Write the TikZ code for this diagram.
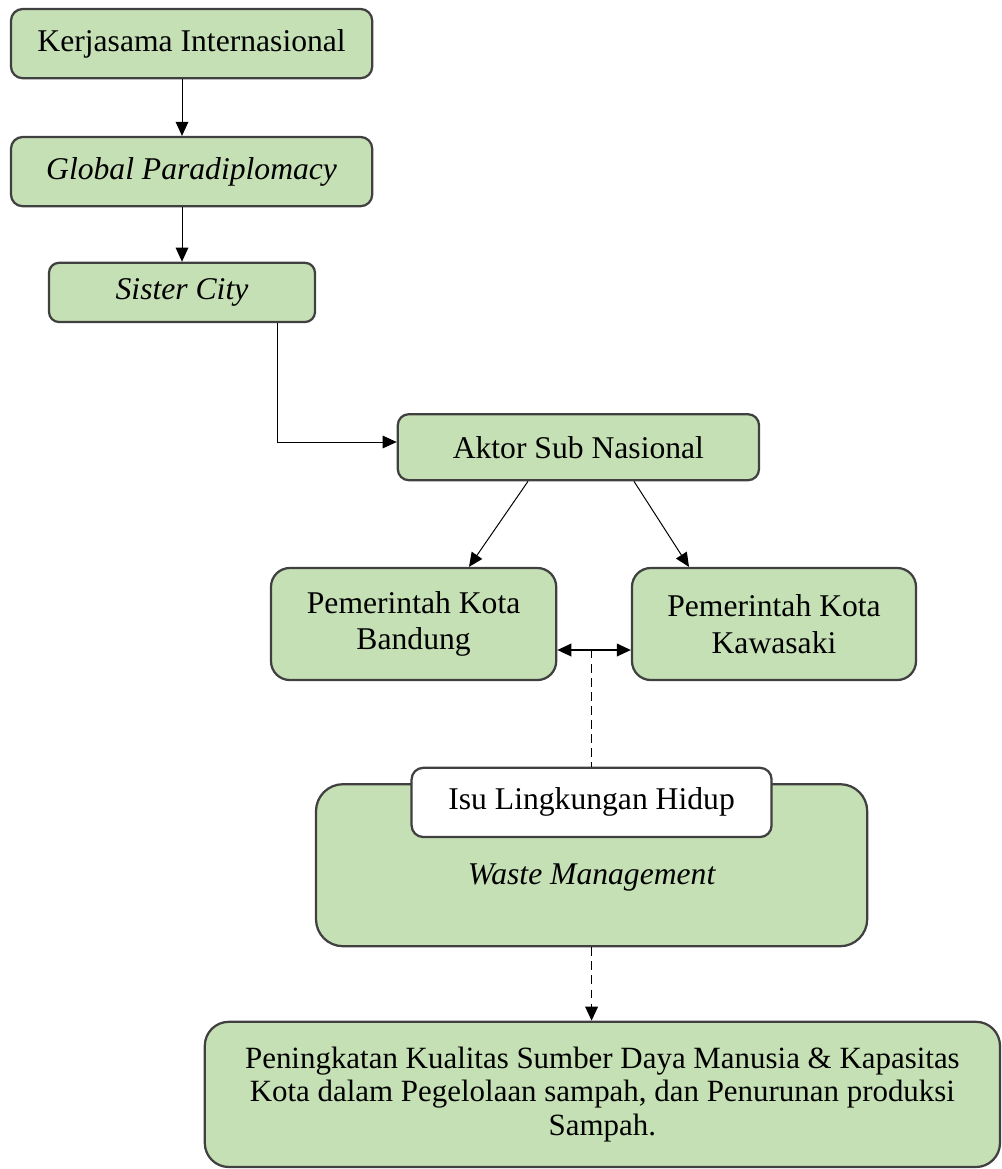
\documentclass[tikz,border=0pt]{standalone}
\usepackage{fontspec}
\setmainfont{Liberation Serif}
\usetikzlibrary{arrows.meta,positioning}
\definecolor{boxgreen}{HTML}{C5E0B4}
\definecolor{boxline}{HTML}{404040}

\begin{document}
\begin{tikzpicture}[->,>={Triangle[length=10pt,width=9pt]},line width=0.7pt,node distance=1cm,
    box node/.style={rounded corners=0.29cm,draw=boxline,line width=1.6pt,fill=boxgreen,align=center,inner sep=0pt,font=\fontsize{22.5}{26}\selectfont},
    white node/.style={box node,fill=white},
    dash line/.style={dashed,dash pattern=on 6pt off 4pt,line width=1.1pt}]
            \useasboundingbox (0,0) rectangle (25.05,-29.225);

            \node[box node,minimum width=9.03cm,minimum height=1.73cm] (1) at (4.79,-1.09) {Kerjasama Internasional};
            \node[box node,minimum width=9.03cm,minimum height=1.73cm] (2) [below of = 1, node distance = 3.2cm] {\textit{Global Paradiplomacy}};
            \node[box node,minimum width=6.65cm,minimum height=1.48cm,rounded corners=0.25cm] (3) [below of = 2, node distance = 3.02cm, xshift = -0.24cm] {\textit{Sister City}};

            \node[box node,minimum width=9.03cm,minimum height=1.65cm,rounded corners=0.275cm] (4) [below of = 3, node distance = 3.87cm, xshift = 9.91cm] {Aktor Sub Nasional};
            \node[box node,minimum width=7.13cm,minimum height=2.8cm,rounded corners=0.47cm] (5) [below of = 4, node distance = 4.42cm, xshift = -4.12cm] {Pemerintah Kota\\Bandung};
            \node[box node,minimum width=7.1cm,minimum height=2.8cm,rounded corners=0.47cm] (6) [right of = 5, node distance = 9.01cm] {Pemerintah Kota\\Kawasaki};

            \node[box node,minimum width=13.78cm,minimum height=4.05cm,rounded corners=0.675cm] (7) [below of = 4, node distance = 10.45cm, xshift = 0.33cm] {};
            \node[font=\fontsize{22.5}{26}\selectfont\itshape] (7t) [below of = 7, node distance = 0.3cm] {Waste Management};
            \node[white node,minimum width=9cm,minimum height=1.73cm] (8) [above of = 7, node distance = 1.57cm] {Isu Lingkungan Hidup};

            \node[box node,minimum width=19.88cm,minimum height=3.63cm,rounded corners=0.6cm,font=\fontsize{22}{24}\selectfont] (9) [below of = 7, node distance = 5.73cm, xshift = 0.27cm]
                {Peningkatan Kualitas Sumber Daya Manusia \& Kapasitas\\Kota dalam Pegelolaan sampah, dan Penurunan produksi\\Sampah.};

            \coordinate (m) at ([yshift=-0.65cm]5.east -| 7);

            \draw (1.south -| 3.north) -- (2.north -| 3.north);
            \draw (2.south -| 3.north) -- (3.north);
            \draw ([xshift=2.38cm]3.south) |- ([yshift=0.13cm]4.west);
            \draw ([xshift=-1.26cm]4.south) -- ([xshift=1.385cm]5.north);
            \draw ([xshift=1.39cm]4.south) -- ([xshift=-2.125cm]6.north);
            \draw[<->,line width=1.2pt] ([yshift=-0.65cm]5.east) -- ([yshift=-0.65cm]6.west);
            \draw[-,dash line] (m) -- (m |- 8.north);
            \draw[dash line] (7.south) -- (7.south |- 9.north);
        \end{tikzpicture}
\end{document}
